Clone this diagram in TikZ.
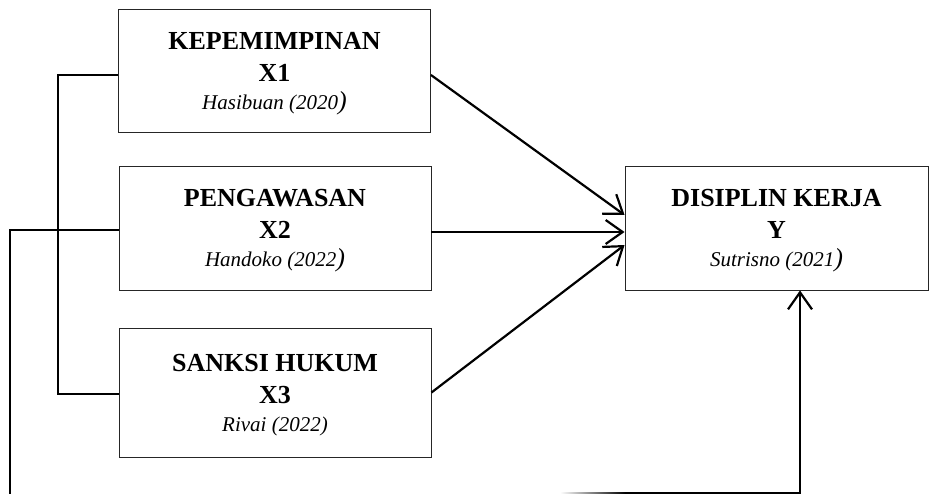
\documentclass[tikz,border=0pt]{standalone}
\usepackage{fontspec}
\setmainfont{Liberation Serif}
\usetikzlibrary{arrows.meta}
\newcommand{\vname}[1]{{\fontsize{26}{28}\selectfont\bfseries #1}}
\newcommand{\vsrc}[1]{{\fontsize{21}{28}\selectfont\itshape #1}}
\newcommand{\bigpar}{{\fontsize{26}{28}\selectfont\itshape )}}
\tikzset{
  varbox/.style={draw=black!85, line width=0.9pt, minimum width=312pt, minimum height=124pt},
  vartext/.style={align=center, inner sep=0pt, font=\fontsize{26}{28}\selectfont},
  link/.style={line width=1.8pt},
  flow/.style={line width=2.2pt, -{Straight Barb[length=17pt,width=24pt,line width=2.2pt]}}
}

\begin{document}
\begin{tikzpicture}[x=1pt,y=-1pt]
	%%%%% START %%%%%
	\useasboundingbox (0,0) rectangle (933,494);
	
	\node[varbox, minimum height=123pt] (x1) at (274.5,70.5) {};
	\node[vartext] (x1t) at ([yshift=-3pt]x1.center) {\vname{KEPEMIMPINAN}\\[4pt]\vname{X1}\\\vsrc{Hasibuan (2020}\bigpar};
	\node[varbox] (x2) at (275,228) {};
	\node[vartext] (x2t) at ([yshift=-3pt]x2.center) {\vname{PENGAWASAN}\\[4pt]\vname{X2}\\\vsrc{Handoko (2022}\bigpar};
	\node[varbox, minimum height=129pt] (x3) at (275,392.5) {};
	\node[vartext] (x3t) at ([yshift=-3pt]x3.center) {\vname{SANKSI HUKUM}\\[4pt]\vname{X3}\\\vsrc{Rivai (2022)}};
	\node[varbox, minimum width=303pt] (y) at (776.5,228) {};
	\node[vartext] (yt) at ([yshift=-3pt]y.center) {\vname{DISIPLIN KERJA}\\[4pt]\vname{Y}\\\vsrc{Sutrisno (2021}\bigpar};
	
	% bracket on the left
	\draw[link] ([yshift=-4.5pt]x1.west) -- ++(-60,0) |- ([yshift=-1.5pt]x3.west);
	\coordinate (lc) at (10,494);
	\draw[link] ([yshift=-2pt]x2.west) -| (lc);
	
	% arrows into Y
	\draw[flow] ([yshift=-4.5pt]x1.east) -- ([yshift=13pt]y.west);
	\draw[flow] ([yshift=-4pt]x2.east) -- ([yshift=-4pt]y.west);
	\draw[flow] (x3.east) -- ([yshift=-17pt]y.west);
	
	% bottom line up to Y
	\coordinate (fa) at (560,493);
	\coordinate (fb) at (625,493);
	\coordinate (fc) at (800,493);
	\shade[left color=white, right color=black] ([yshift=1pt]fa) rectangle ([yshift=-1pt]fb);
	\draw[flow] (fb) -- (fc) -- (y.south -| fc);
	
	%%%%% END %%%%%
\end{tikzpicture}
\end{document}
